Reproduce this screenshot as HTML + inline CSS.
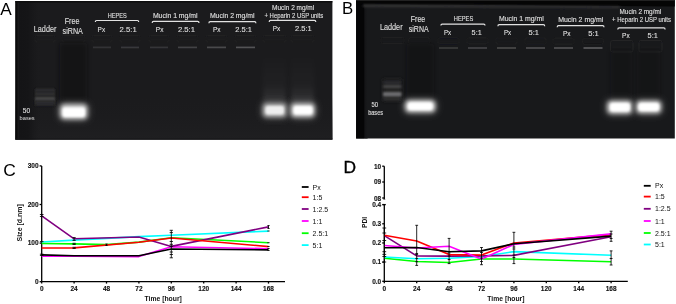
<!DOCTYPE html>
<html><head><meta charset="utf-8"><title>Figure</title>
<style>
html,body{margin:0;padding:0;background:#fff;width:676px;height:304px;overflow:hidden}
svg{display:block;font-family:"Liberation Sans",sans-serif}
</style></head><body>
<svg width="676" height="304" viewBox="0 0 676 304">
<defs>
<filter id="b1" x="-50%" y="-50%" width="200%" height="200%"><feGaussianBlur stdDeviation="1.2"/></filter>
<filter id="b2" x="-50%" y="-50%" width="200%" height="200%"><feGaussianBlur stdDeviation="2"/></filter>
<filter id="b3" x="-50%" y="-50%" width="200%" height="200%"><feGaussianBlur stdDeviation="3.5"/></filter>
<filter id="bt" filterUnits="userSpaceOnUse" x="0" y="0" width="676" height="304"><feGaussianBlur stdDeviation="0.25"/></filter>
<linearGradient id="gA" x1="0" y1="0" x2="0" y2="1"><stop offset="0" stop-color="#1b1b1d" stop-opacity="0"/><stop offset="1" stop-color="#1f1f21" stop-opacity="1"/></linearGradient>
<linearGradient id="gL" x1="0" y1="0" x2="1" y2="0"><stop offset="0" stop-color="#141416"/><stop offset="1" stop-color="#18191b"/></linearGradient>
<linearGradient id="lg" x1="0" y1="0" x2="0" y2="1"><stop offset="0" stop-color="#fff" stop-opacity="0"/><stop offset="0.6" stop-color="#fff" stop-opacity="0.025"/><stop offset="1" stop-color="#fff" stop-opacity="0.12"/></linearGradient>
<filter id="gs" filterUnits="userSpaceOnUse" x="0" y="0" width="676" height="304"><feOffset dx="0" dy="0"/></filter>
<linearGradient id="gAL" x1="0" y1="0" x2="1" y2="0"><stop offset="0" stop-color="#0a0a0a"/><stop offset="0.06" stop-color="#0b0b0b"/><stop offset="0.1" stop-color="#1a1a1b"/><stop offset="0.16" stop-color="#141416"/><stop offset="0.5" stop-color="#151517"/><stop offset="1" stop-color="#1b1b1d" stop-opacity="0"/></linearGradient>
</defs>
<g filter="url(#gs)">
<rect x="15.4" y="1.1" width="317" height="138.5" fill="#1b1b1d"/>
<rect x="15.4" y="95" width="317" height="44.6" fill="url(#gA)"/>
<rect x="15.4" y="1.1" width="26" height="138.5" fill="url(#gAL)"/>
<path d="M15.4 139 H332.4" stroke="#151517" stroke-width="0.9" fill="none"/>
<path d="M15.4 1.8 H332.4" stroke="#0c0c0d" stroke-width="1.4" fill="none"/>
<rect x="356.1" y="0" width="318.7" height="138.5" fill="#18191b"/>
<rect x="356.1" y="0" width="8.5" height="138.5" fill="#050506"/>
<rect x="364.6" y="0" width="3" height="138.5" fill="url(#gL)"/>
<polygon points="356.1,0 674.8,0 674.8,6.6 356.1,4.2" fill="#050505"/>
<polygon points="363,4.4 620,6.2 620,8 363,7" fill="#343436" filter="url(#b1)"/>
<rect x="356.1" y="0" width="318.7" height="0.8" fill="#2a2a2a"/>
<rect x="35" y="35.5" width="20" height="6.5" rx="2" fill="none" stroke="#202022" stroke-width="0.7" opacity="1" filter="url(#bt)"/><path d="M37 39.55 H53" stroke="#202022" stroke-width="0.6" opacity="0.7"/>
<rect x="62" y="35.5" width="23" height="6.5" rx="2" fill="none" stroke="#202022" stroke-width="0.7" opacity="1" filter="url(#bt)"/><path d="M64 39.55 H83" stroke="#202022" stroke-width="0.6" opacity="0.7"/>
<rect x="92" y="35.5" width="20" height="6.5" rx="2" fill="none" stroke="#202022" stroke-width="0.7" opacity="1" filter="url(#bt)"/><path d="M94 39.55 H110" stroke="#202022" stroke-width="0.6" opacity="0.7"/><path d="M93 47.4 H111" stroke="#333335" stroke-width="1.7" filter="url(#bt)"/>
<rect x="120" y="35.5" width="20" height="6.5" rx="2" fill="none" stroke="#202022" stroke-width="0.7" opacity="1" filter="url(#bt)"/><path d="M122 39.55 H138" stroke="#202022" stroke-width="0.6" opacity="0.7"/><path d="M121 47.4 H139" stroke="#39393b" stroke-width="1.7" filter="url(#bt)"/>
<rect x="149" y="35.5" width="20" height="6.5" rx="2" fill="none" stroke="#202022" stroke-width="0.7" opacity="1" filter="url(#bt)"/><path d="M151 39.55 H167" stroke="#202022" stroke-width="0.6" opacity="0.7"/><path d="M150 47.4 H168" stroke="#363638" stroke-width="1.7" filter="url(#bt)"/>
<rect x="177" y="35.5" width="21" height="6.5" rx="2" fill="none" stroke="#202022" stroke-width="0.7" opacity="1" filter="url(#bt)"/><path d="M179 39.55 H196" stroke="#202022" stroke-width="0.6" opacity="0.7"/><path d="M178 47.4 H197" stroke="#434345" stroke-width="1.7" filter="url(#bt)"/>
<rect x="206" y="35.5" width="21" height="6.5" rx="2" fill="none" stroke="#202022" stroke-width="0.7" opacity="1" filter="url(#bt)"/><path d="M208 39.55 H225" stroke="#202022" stroke-width="0.6" opacity="0.7"/><path d="M207 47.4 H226" stroke="#4a4a4c" stroke-width="1.7" filter="url(#bt)"/>
<rect x="235" y="35.5" width="21" height="6.5" rx="2" fill="none" stroke="#202022" stroke-width="0.7" opacity="1" filter="url(#bt)"/><path d="M237 39.55 H254" stroke="#202022" stroke-width="0.6" opacity="0.7"/><path d="M236 47.4 H255" stroke="#525254" stroke-width="1.7" filter="url(#bt)"/>
<rect x="263" y="35.5" width="23" height="6.5" rx="2" fill="none" stroke="#202022" stroke-width="0.7" opacity="1" filter="url(#bt)"/><path d="M265 39.55 H284" stroke="#202022" stroke-width="0.6" opacity="0.7"/>
<rect x="291" y="35.5" width="23" height="6.5" rx="2" fill="none" stroke="#202022" stroke-width="0.7" opacity="1" filter="url(#bt)"/><path d="M293 39.55 H312" stroke="#202022" stroke-width="0.6" opacity="0.7"/>
<rect x="381" y="37.5" width="23" height="6" rx="2" fill="none" stroke="#1f1f21" stroke-width="0.7" opacity="1" filter="url(#bt)"/><path d="M383 41.3 H402" stroke="#1f1f21" stroke-width="0.6" opacity="0.7"/>
<rect x="408.5" y="37.61" width="21.5" height="6" rx="2" fill="none" stroke="#1f1f21" stroke-width="0.7" opacity="1" filter="url(#bt)"/><path d="M410.5 41.41 H428" stroke="#1f1f21" stroke-width="0.6" opacity="0.7"/>
<rect x="438" y="37.73" width="21" height="6" rx="2" fill="none" stroke="#1f1f21" stroke-width="0.7" opacity="1" filter="url(#bt)"/><path d="M440 41.53 H457" stroke="#1f1f21" stroke-width="0.6" opacity="0.7"/><path d="M439 48 H458" stroke="#3a3a3c" stroke-width="1.7" filter="url(#bt)"/>
<rect x="467" y="37.84" width="21" height="6" rx="2" fill="none" stroke="#1f1f21" stroke-width="0.7" opacity="1" filter="url(#bt)"/><path d="M469 41.64 H486" stroke="#1f1f21" stroke-width="0.6" opacity="0.7"/><path d="M468 48 H487" stroke="#444446" stroke-width="1.7" filter="url(#bt)"/>
<rect x="496" y="37.96" width="21" height="6" rx="2" fill="none" stroke="#1f1f21" stroke-width="0.7" opacity="1" filter="url(#bt)"/><path d="M498 41.76 H515" stroke="#1f1f21" stroke-width="0.6" opacity="0.7"/><path d="M497 48 H516" stroke="#48484a" stroke-width="1.7" filter="url(#bt)"/>
<rect x="525" y="38.08" width="21" height="6" rx="2" fill="none" stroke="#1f1f21" stroke-width="0.7" opacity="1" filter="url(#bt)"/><path d="M527 41.88 H544" stroke="#1f1f21" stroke-width="0.6" opacity="0.7"/><path d="M526 48 H545" stroke="#4e4e50" stroke-width="1.7" filter="url(#bt)"/>
<rect x="553" y="38.19" width="21" height="6" rx="2" fill="none" stroke="#1f1f21" stroke-width="0.7" opacity="1" filter="url(#bt)"/><path d="M555 41.99 H572" stroke="#1f1f21" stroke-width="0.6" opacity="0.7"/><path d="M554 48 H573" stroke="#505052" stroke-width="1.7" filter="url(#bt)"/>
<rect x="582.5" y="38.31" width="21" height="6" rx="2" fill="none" stroke="#1f1f21" stroke-width="0.7" opacity="1" filter="url(#bt)"/><path d="M584.5 42.11 H601.5" stroke="#1f1f21" stroke-width="0.6" opacity="0.7"/><path d="M583.5 48 H602.5" stroke="#5a5a5c" stroke-width="1.7" filter="url(#bt)"/>
<rect x="610.5" y="40.5" width="22.5" height="11.5" rx="2" fill="none" stroke="#262628" stroke-width="0.7" opacity="1" filter="url(#bt)"/><path d="M612.5 47.05 H631" stroke="#262628" stroke-width="0.6" opacity="0.7"/>
<rect x="639" y="40.5" width="23" height="11.5" rx="2" fill="none" stroke="#262628" stroke-width="0.7" opacity="1" filter="url(#bt)"/><path d="M641 47.05 H660" stroke="#262628" stroke-width="0.6" opacity="0.7"/>
<rect x="59.5" y="43" width="27.5" height="61" rx="2" fill="#0d0d0f" opacity="0.45" filter="url(#b2)"/>
<rect x="59" y="103" width="29.5" height="17" rx="5" fill="#6a6a6a" opacity="1" filter="url(#b3)"/>
<rect x="60.5" y="104.5" width="26.5" height="14.5" rx="4" fill="#cfcfcf" opacity="1" filter="url(#b2)"/>
<rect x="62.5" y="107.5" width="22.5" height="9.5" rx="3" fill="#ffffff" opacity="1" filter="url(#b1)"/>
<rect x="263" y="55" width="23" height="50" rx="2" fill="url(#lg)" opacity="1" filter="url(#b2)"/>
<rect x="291" y="55" width="23" height="50" rx="2" fill="url(#lg)" opacity="1" filter="url(#b2)"/>
<rect x="261.5" y="102" width="26.5" height="16.5" rx="5" fill="#555555" opacity="1" filter="url(#b3)"/>
<rect x="263" y="103.5" width="23.5" height="13.5" rx="4" fill="#b5b5b5" opacity="1" filter="url(#b2)"/>
<rect x="265.5" y="106" width="18.5" height="8.5" rx="3" fill="#eeeeee" opacity="1" filter="url(#b1)"/>
<rect x="289.5" y="102" width="26.5" height="16.5" rx="5" fill="#606060" opacity="1" filter="url(#b3)"/>
<rect x="291" y="103.5" width="23.5" height="13.5" rx="4" fill="#cdcdcd" opacity="1" filter="url(#b2)"/>
<rect x="293.5" y="106" width="19" height="8.5" rx="3" fill="#ffffff" opacity="1" filter="url(#b1)"/>
<rect x="35" y="88.5" width="20" height="17.5" rx="1" fill="#202022" opacity="1" filter="url(#b1)"/>
<rect x="35" y="89.2" width="20" height="1.8" rx="1" fill="#323234" opacity="1" filter="url(#b1)"/>
<rect x="35" y="92.8" width="20" height="2" rx="1" fill="#353537" opacity="1" filter="url(#b1)"/>
<rect x="35" y="97.3" width="20" height="3.3" rx="1" fill="#4c4c4e" opacity="1" filter="url(#b1)"/>
<rect x="35" y="100.5" width="20" height="4.5" rx="1" fill="#2c2c2e" opacity="1" filter="url(#b1)"/>
<rect x="406.5" y="44" width="27.5" height="58" rx="2" fill="#0d0d0f" opacity="0.4" filter="url(#b2)"/>
<rect x="610.5" y="50" width="21.5" height="52" rx="2" fill="#0d0d0f" opacity="0.3" filter="url(#b2)"/>
<rect x="637" y="50" width="23" height="52" rx="2" fill="#0d0d0f" opacity="0.3" filter="url(#b2)"/>
<rect x="404" y="99" width="32.5" height="14.5" rx="5" fill="#6a6a6a" opacity="1" filter="url(#b3)"/>
<rect x="405.5" y="100.5" width="29.5" height="11.5" rx="4" fill="#dadada" opacity="1" filter="url(#b2)"/>
<rect x="408" y="102.5" width="24.5" height="7.5" rx="3" fill="#ffffff" opacity="1" filter="url(#b1)"/>
<rect x="606" y="99.5" width="27.5" height="15.5" rx="5" fill="#606060" opacity="1" filter="url(#b3)"/>
<rect x="607.5" y="101" width="24.5" height="12.5" rx="4" fill="#d2d2d2" opacity="1" filter="url(#b2)"/>
<rect x="610" y="103" width="20" height="8.5" rx="3" fill="#ffffff" opacity="1" filter="url(#b1)"/>
<rect x="635" y="99.5" width="27.5" height="15" rx="5" fill="#606060" opacity="1" filter="url(#b3)"/>
<rect x="636.5" y="101" width="24.5" height="12" rx="4" fill="#d2d2d2" opacity="1" filter="url(#b2)"/>
<rect x="638.5" y="103" width="20.5" height="8" rx="3" fill="#ffffff" opacity="1" filter="url(#b1)"/>
<rect x="383" y="79" width="18.5" height="22" rx="1" fill="#212123" opacity="1" filter="url(#b2)"/>
<rect x="383" y="81.6" width="18.5" height="1.8" rx="1" fill="#2e2e30" opacity="1" filter="url(#b1)"/>
<rect x="383" y="85.2" width="18.5" height="2.6" rx="1" fill="#4a4a4c" opacity="1" filter="url(#b1)"/>
<rect x="383" y="92" width="18.5" height="4.4" rx="1" fill="#6c6c6e" opacity="1" filter="url(#b1)"/>
<rect x="383" y="98" width="18.5" height="2" rx="1" fill="#323234" opacity="1" filter="url(#b1)"/>
<text x="33.8" y="31.6" font-size="8.4" textLength="22.6" lengthAdjust="spacingAndGlyphs" fill="#dedede" stroke="#dedede" stroke-width="0.14" filter="url(#bt)">Ladder</text>
<text x="64.7" y="24.3" font-size="8.2" textLength="14.8" lengthAdjust="spacingAndGlyphs" fill="#dedede" stroke="#dedede" stroke-width="0.14" filter="url(#bt)">Free</text>
<text x="62.6" y="34.2" font-size="8.2" textLength="20.2" lengthAdjust="spacingAndGlyphs" fill="#dedede" stroke="#dedede" stroke-width="0.14" filter="url(#bt)">siRNA</text>
<text x="107.8" y="17.8" font-size="6.4" textLength="19" lengthAdjust="spacingAndGlyphs" fill="#dedede" stroke="#dedede" stroke-width="0.14" filter="url(#bt)">HEPES</text>
<text x="97.6" y="32" font-size="7.4" textLength="7.5" lengthAdjust="spacingAndGlyphs" fill="#dedede" stroke="#dedede" stroke-width="0.14" filter="url(#bt)">Px</text>
<text x="119.6" y="32" font-size="7.4" textLength="17.1" lengthAdjust="spacingAndGlyphs" fill="#dedede" stroke="#dedede" stroke-width="0.14" filter="url(#bt)">2.5:1</text>
<text x="152.9" y="17.9" font-size="6.8" textLength="44.7" lengthAdjust="spacingAndGlyphs" fill="#dedede" stroke="#dedede" stroke-width="0.14" filter="url(#bt)">Mucin 1 mg/ml</text>
<text x="155.8" y="32" font-size="7.4" textLength="7.6" lengthAdjust="spacingAndGlyphs" fill="#dedede" stroke="#dedede" stroke-width="0.14" filter="url(#bt)">Px</text>
<text x="177.9" y="32" font-size="7.4" textLength="17.1" lengthAdjust="spacingAndGlyphs" fill="#dedede" stroke="#dedede" stroke-width="0.14" filter="url(#bt)">2.5:1</text>
<text x="209.9" y="18.2" font-size="6.8" textLength="44.7" lengthAdjust="spacingAndGlyphs" fill="#dedede" stroke="#dedede" stroke-width="0.14" filter="url(#bt)">Mucin 2 mg/ml</text>
<text x="212.9" y="32" font-size="7.4" textLength="7.5" lengthAdjust="spacingAndGlyphs" fill="#dedede" stroke="#dedede" stroke-width="0.14" filter="url(#bt)">Px</text>
<text x="235.3" y="32" font-size="7.4" textLength="16.7" lengthAdjust="spacingAndGlyphs" fill="#dedede" stroke="#dedede" stroke-width="0.14" filter="url(#bt)">2.5:1</text>
<text x="272.1" y="10.3" font-size="6.6" textLength="42.1" lengthAdjust="spacingAndGlyphs" fill="#dedede" stroke="#dedede" stroke-width="0.14" filter="url(#bt)">Mucin 2 mg/ml</text>
<text x="264.5" y="18.2" font-size="6.6" textLength="58.7" lengthAdjust="spacingAndGlyphs" fill="#dedede" stroke="#dedede" stroke-width="0.14" filter="url(#bt)">+ Heparin 2 USP units</text>
<text x="272.8" y="31.3" font-size="7.4" textLength="7.5" lengthAdjust="spacingAndGlyphs" fill="#dedede" stroke="#dedede" stroke-width="0.14" filter="url(#bt)">Px</text>
<text x="295.1" y="31.3" font-size="7.4" textLength="16.7" lengthAdjust="spacingAndGlyphs" fill="#dedede" stroke="#dedede" stroke-width="0.14" filter="url(#bt)">2.5:1</text>
<text x="22.8" y="112.7" font-size="6.5" textLength="7.2" lengthAdjust="spacingAndGlyphs" fill="#dedede" stroke="#dedede" stroke-width="0.14" filter="url(#bt)">50</text>
<text x="19.6" y="120.1" font-size="6.2" textLength="15.1" lengthAdjust="spacingAndGlyphs" fill="#dedede" stroke="#dedede" stroke-width="0" filter="url(#bt)">bases</text>
<text x="379.9" y="29.6" font-size="8.4" textLength="22.7" lengthAdjust="spacingAndGlyphs" fill="#dedede" stroke="#dedede" stroke-width="0.14" filter="url(#bt)">Ladder</text>
<text x="410.8" y="22.4" font-size="8.2" textLength="14.5" lengthAdjust="spacingAndGlyphs" fill="#dedede" stroke="#dedede" stroke-width="0.14" filter="url(#bt)">Free</text>
<text x="408.8" y="32.2" font-size="8.2" textLength="19.8" lengthAdjust="spacingAndGlyphs" fill="#dedede" stroke="#dedede" stroke-width="0.14" filter="url(#bt)">siRNA</text>
<text x="453.8" y="21" font-size="6.4" textLength="19.4" lengthAdjust="spacingAndGlyphs" fill="#dedede" stroke="#dedede" stroke-width="0.14" filter="url(#bt)">HEPES</text>
<text x="443.9" y="35.3" font-size="7.4" textLength="7.1" lengthAdjust="spacingAndGlyphs" fill="#dedede" stroke="#dedede" stroke-width="0.14" filter="url(#bt)">Px</text>
<text x="471.6" y="35.3" font-size="7.4" textLength="10.1" lengthAdjust="spacingAndGlyphs" fill="#dedede" stroke="#dedede" stroke-width="0.14" filter="url(#bt)">5:1</text>
<text x="498.9" y="21" font-size="6.8" textLength="44.8" lengthAdjust="spacingAndGlyphs" fill="#dedede" stroke="#dedede" stroke-width="0.14" filter="url(#bt)">Mucin 1 mg/ml</text>
<text x="503.9" y="35.3" font-size="7.4" textLength="7.1" lengthAdjust="spacingAndGlyphs" fill="#dedede" stroke="#dedede" stroke-width="0.14" filter="url(#bt)">Px</text>
<text x="528.6" y="35.3" font-size="7.4" textLength="10.4" lengthAdjust="spacingAndGlyphs" fill="#dedede" stroke="#dedede" stroke-width="0.14" filter="url(#bt)">5:1</text>
<text x="558.2" y="21.7" font-size="6.8" textLength="45.1" lengthAdjust="spacingAndGlyphs" fill="#dedede" stroke="#dedede" stroke-width="0.14" filter="url(#bt)">Mucin 2 mg/ml</text>
<text x="562.9" y="35.8" font-size="7.4" textLength="7.5" lengthAdjust="spacingAndGlyphs" fill="#dedede" stroke="#dedede" stroke-width="0.14" filter="url(#bt)">Px</text>
<text x="588.2" y="35.8" font-size="7.4" textLength="10.5" lengthAdjust="spacingAndGlyphs" fill="#dedede" stroke="#dedede" stroke-width="0.14" filter="url(#bt)">5:1</text>
<text x="619.5" y="13.8" font-size="6.6" textLength="41.7" lengthAdjust="spacingAndGlyphs" fill="#dedede" stroke="#dedede" stroke-width="0.14" filter="url(#bt)">Mucin 2 mg/ml</text>
<text x="612.1" y="22.1" font-size="6.6" textLength="58.9" lengthAdjust="spacingAndGlyphs" fill="#dedede" stroke="#dedede" stroke-width="0.14" filter="url(#bt)">+ Heparin 2 USP units</text>
<text x="622.1" y="37.5" font-size="7.4" textLength="7.5" lengthAdjust="spacingAndGlyphs" fill="#dedede" stroke="#dedede" stroke-width="0.14" filter="url(#bt)">Px</text>
<text x="647.6" y="37.5" font-size="7.4" textLength="10.3" lengthAdjust="spacingAndGlyphs" fill="#dedede" stroke="#dedede" stroke-width="0.14" filter="url(#bt)">5:1</text>
<text x="371.4" y="106.9" font-size="6.5" textLength="6.6" lengthAdjust="spacingAndGlyphs" fill="#dedede" stroke="#dedede" stroke-width="0.14" filter="url(#bt)">50</text>
<text x="368.2" y="114.7" font-size="6.3" textLength="14.8" lengthAdjust="spacingAndGlyphs" fill="#dedede" stroke="#dedede" stroke-width="0.14" filter="url(#bt)">bases</text>
<path d="M95.3 22 Q95.3 20.5 96.6 20.5 L137.4 20.5 Q138.7 20.5 138.7 22" stroke="#e2e2e2" stroke-width="1.2" fill="none" filter="url(#bt)"/>
<path d="M152.2 22.9 Q152.2 21.4 153.5 21.4 L197.7 21.4 Q199 21.4 199 22.9" stroke="#e2e2e2" stroke-width="1.2" fill="none" filter="url(#bt)"/>
<path d="M208.9 23.2 Q208.9 21.7 210.2 21.7 L254.6 21.7 Q255.9 21.7 255.9 23.2" stroke="#e2e2e2" stroke-width="1.2" fill="none" filter="url(#bt)"/>
<path d="M269.2 21.9 Q269.2 20.4 270.5 20.4 L314.5 20.4 Q315.8 20.4 315.8 21.9" stroke="#e2e2e2" stroke-width="1.2" fill="none" filter="url(#bt)"/>
<path d="M440.9 25.6 Q440.9 24.1 442.2 24.1 L483.7 24.1 Q485 24.1 485 25.6" stroke="#e2e2e2" stroke-width="1.2" fill="none" filter="url(#bt)"/>
<path d="M497.9 26.2 Q497.9 24.7 499.2 24.7 L543.4 24.7 Q544.7 24.7 544.7 26.2" stroke="#e2e2e2" stroke-width="1.2" fill="none" filter="url(#bt)"/>
<path d="M557.2 27.2 Q557.2 25.7 558.5 25.7 L602.7 25.7 Q604 25.7 604 27.2" stroke="#e2e2e2" stroke-width="1.2" fill="none" filter="url(#bt)"/>
<path d="M617.8 29.4 Q617.8 27.9 619.1 27.9 L663.8 27.9 Q665.1 27.9 665.1 29.4" stroke="#e2e2e2" stroke-width="1.2" fill="none" filter="url(#bt)"/>
<text x="0.3" y="15.3" font-size="17.2" fill="#000">A</text>
<text x="342" y="14.3" font-size="16.8" fill="#000">B</text>
<g fill="none" stroke="#000" stroke-width="1.3">
<path d="M41.7 165.9 V281.7 H285"/>
<path d="M39.6 281.7 H41.7"/>
<path d="M39.6 243.1 H41.7"/>
<path d="M39.6 204.5 H41.7"/>
<path d="M39.6 165.9 H41.7"/>
<path d="M41.7 281.7 V283.6"/>
<path d="M74.1 281.7 V283.6"/>
<path d="M106.5 281.7 V283.6"/>
<path d="M138.9 281.7 V283.6"/>
<path d="M171.3 281.7 V283.6"/>
<path d="M203.7 281.7 V283.6"/>
<path d="M236.1 281.7 V283.6"/>
<path d="M268.5 281.7 V283.6"/>
</g>
<g font-size="6.5" font-weight="bold" fill="#111" stroke="#111" stroke-width="0.12">
<text x="38.6" y="284" text-anchor="end">0</text>
<text x="38.6" y="245.4" text-anchor="end">100</text>
<text x="38.6" y="206.8" text-anchor="end">200</text>
<text x="38.6" y="168.2" text-anchor="end">300</text>
<text x="41.7" y="290.8" text-anchor="middle">0</text>
<text x="74.1" y="290.8" text-anchor="middle">24</text>
<text x="106.5" y="290.8" text-anchor="middle">48</text>
<text x="138.9" y="290.8" text-anchor="middle">72</text>
<text x="171.3" y="290.8" text-anchor="middle">96</text>
<text x="203.7" y="290.8" text-anchor="middle">120</text>
<text x="236.1" y="290.8" text-anchor="middle">144</text>
<text x="268.5" y="290.8" text-anchor="middle">168</text>
</g>
<text x="144.6" y="301.4" font-size="7.4" font-weight="bold" textLength="37.2" lengthAdjust="spacingAndGlyphs" fill="#111">Time [hour]</text>
<text transform="translate(21.9 241.5) rotate(-90)" font-size="7.6" font-weight="bold" textLength="37.4" lengthAdjust="spacingAndGlyphs" fill="#111">Size [d.nm]</text>
<path d="M41.7 242 L74.1 240.1 L138.9 236.6 L171.3 235.2 L268.5 231.1" fill="none" stroke="#00ffff" stroke-width="1.6" stroke-linejoin="round"/>
<path d="M41.7 243.5 L74.1 243.9 L106.5 244.6 L138.9 242.1 L171.3 237.8 L268.5 242.7" fill="none" stroke="#00ff00" stroke-width="1.6" stroke-linejoin="round"/>
<path d="M41.7 256.3 L74.1 256.2 L138.9 256.6 L171.3 246.7 L268.5 248.7" fill="none" stroke="#ff00ff" stroke-width="1.6" stroke-linejoin="round"/>
<path d="M41.7 215.8 L74.1 238.8 L138.9 237 L171.3 246.4 L268.5 226.9" fill="none" stroke="#800080" stroke-width="1.6" stroke-linejoin="round"/>
<path d="M41.7 248 L74.1 247.9 L138.9 242.3 L171.3 238 L268.5 246.6" fill="none" stroke="#ff0000" stroke-width="1.6" stroke-linejoin="round"/>
<path d="M41.7 254.9 L74.1 255.7 L138.9 255.7 L171.3 249 L268.5 249.9" fill="none" stroke="#000000" stroke-width="1.6" stroke-linejoin="round"/>
<path d="M171.3 230.3 V257.8 M169.7 230.3 H172.9 M169.7 257.8 H172.9 M169.7 232.6 H172.9 M169.7 241.5 H172.9 M169.7 244.3 H172.9 M169.7 246.3 H172.9 M169.7 252 H172.9 M169.7 254.5 H172.9" stroke="#000" stroke-width="0.85" fill="none"/>
<path d="M74.1 237.6 V240.4 M72.5 237.6 H75.7 M72.5 240.4 H75.7 M72.5 243.3 H75.7 M72.5 244.5 H75.7 M72.5 247.3 H75.7 M72.5 248.5 H75.7" stroke="#000" stroke-width="0.85" fill="none"/>
<path d="M41.7 214.5 V216.5 M39.9 214.5 H43.5 M39.9 216.5 H43.5 M39.9 241.6 H43.5 M39.9 254.2 H43.5 M39.9 255.4 H43.5" stroke="#000" stroke-width="0.85" fill="none"/>
<path d="M106.5 244 V245.5 M105.4 244 H107.6 M105.4 245.5 H107.6" stroke="#000" stroke-width="0.85" fill="none"/>
<path d="M268.5 225.5 V228.5 M267.4 225.5 H269.6 M267.4 228.5 H269.6 M267.4 231 H269.6 M267.4 242.7 H269.6 M267.4 246.5 H269.6 M267.4 248.5 H269.6 M267.4 250.5 H269.6" stroke="#000" stroke-width="0.85" fill="none"/>
<path d="M301.8 187 H308.6" stroke="#000000" stroke-width="1.8"/>
<text x="312.6" y="189.6" font-size="7" fill="#111">Px</text>
<path d="M301.8 197.2 H308.6" stroke="#ff0000" stroke-width="1.8"/>
<text x="312.6" y="199.8" font-size="7" fill="#111">1:5</text>
<path d="M301.8 209 H308.6" stroke="#800080" stroke-width="1.8"/>
<text x="312.6" y="211.6" font-size="7" fill="#111">1:2.5</text>
<path d="M301.8 221 H308.6" stroke="#ff00ff" stroke-width="1.8"/>
<text x="312.6" y="223.6" font-size="7" fill="#111">1:1</text>
<path d="M301.8 233.2 H308.6" stroke="#00ff00" stroke-width="1.8"/>
<text x="312.6" y="235.8" font-size="7" fill="#111">2.5:1</text>
<path d="M301.8 245.1 H308.6" stroke="#00ffff" stroke-width="1.8"/>
<text x="312.6" y="247.7" font-size="7" fill="#111">5:1</text>
<text x="3.2" y="175.6" font-size="17.4" fill="#000">C</text>
<g fill="none" stroke="#000" stroke-width="1.3">
<path d="M384.3 204.6 V281.3 H627.8"/>
<path d="M384.3 166.2 V198.5"/>
<path d="M382.8 204.6 H385.8"/>
<path d="M382.2 281.3 H384.3"/>
<path d="M382.2 262.12 H384.3"/>
<path d="M382.2 242.95 H384.3"/>
<path d="M382.2 223.78 H384.3"/>
<path d="M382.2 204.6 H384.3"/>
<path d="M382.2 166.2 H384.3"/>
<path d="M382.2 182 H384.3"/>
<path d="M382.2 198 H384.3"/>
<path d="M384.3 281.3 V283.2"/>
<path d="M416.7 281.3 V283.2"/>
<path d="M449.1 281.3 V283.2"/>
<path d="M481.5 281.3 V283.2"/>
<path d="M513.9 281.3 V283.2"/>
<path d="M546.3 281.3 V283.2"/>
<path d="M578.7 281.3 V283.2"/>
<path d="M611.1 281.3 V283.2"/>
</g>
<path d="M383.2 199.5 L384.3 197.3 L385.4 199.5 Z" fill="#000"/>
<g font-size="6.5" font-weight="bold" fill="#111" stroke="#111" stroke-width="0.12">
<text x="381.2" y="283.6" text-anchor="end">0.0</text>
<text x="381.2" y="264.43" text-anchor="end">0.1</text>
<text x="381.2" y="245.25" text-anchor="end">0.2</text>
<text x="381.2" y="226.08" text-anchor="end">0.3</text>
<text x="381.2" y="206.9" text-anchor="end">0.4</text>
<text x="381.2" y="168.5" text-anchor="end">10</text>
<text x="381.2" y="184.3" text-anchor="end">09</text>
<text x="381.2" y="200.6" text-anchor="end">08</text>
<text x="384.3" y="290.6" text-anchor="middle">0</text>
<text x="416.7" y="290.6" text-anchor="middle">24</text>
<text x="449.1" y="290.6" text-anchor="middle">48</text>
<text x="481.5" y="290.6" text-anchor="middle">72</text>
<text x="513.9" y="290.6" text-anchor="middle">96</text>
<text x="546.3" y="290.6" text-anchor="middle">120</text>
<text x="578.7" y="290.6" text-anchor="middle">144</text>
<text x="611.1" y="290.6" text-anchor="middle">168</text>
</g>
<text x="487.3" y="301.4" font-size="7.4" font-weight="bold" textLength="37.2" lengthAdjust="spacingAndGlyphs" fill="#111">Time [hour]</text>
<text transform="translate(366.7 228.1) rotate(-90)" font-size="7.6" font-weight="bold" textLength="11.2" lengthAdjust="spacingAndGlyphs" fill="#111">PDI</text>
<path d="M384.3 258.2 L416.7 261.5 L449.1 262.5 L481.5 259 L513.9 259 L611.1 261.7" fill="none" stroke="#00ff00" stroke-width="1.6" stroke-linejoin="round"/>
<path d="M384.3 257 L416.7 258.7 L449.1 258.2 L481.5 256.5 L513.9 251.6 L611.1 255.3" fill="none" stroke="#00ffff" stroke-width="1.6" stroke-linejoin="round"/>
<path d="M384.3 235.6 L416.7 255.9 L449.1 256.1 L481.5 255.9 L513.9 255.4 L611.1 236.8" fill="none" stroke="#800080" stroke-width="1.6" stroke-linejoin="round"/>
<path d="M384.3 235.3 L416.7 241 L449.1 254.6 L481.5 255 L513.9 243 L611.1 234.6" fill="none" stroke="#ff0000" stroke-width="1.6" stroke-linejoin="round"/>
<path d="M384.3 245.5 L416.7 248 L449.1 246.3 L481.5 259.1 L513.9 244.4 L611.1 233.9" fill="none" stroke="#ff00ff" stroke-width="1.6" stroke-linejoin="round"/>
<path d="M384.3 247.7 L416.7 247.5 L449.1 251.7 L481.5 250.9 L513.9 243.8 L611.1 236.1" fill="none" stroke="#000000" stroke-width="1.6" stroke-linejoin="round"/>
<path d="M416.7 225.3 V265.4 M415.3 225.3 H418.1 M415.3 265.4 H418.1 M415.3 253.5 H418.1 M415.3 254.6 H418.1 M415.3 258.4 H418.1 M415.3 261.7 H418.1" stroke="#000" stroke-width="0.85" fill="none"/>
<path d="M449.1 238.4 V263.6 M447.7 238.4 H450.5 M447.7 263.6 H450.5 M447.7 253 H450.5 M447.7 256 H450.5 M447.7 259.5 H450.5" stroke="#000" stroke-width="0.85" fill="none"/>
<path d="M481.5 247.5 V264.7 M480.1 247.5 H482.9 M480.1 264.7 H482.9 M480.1 252.5 H482.9 M480.1 258 H482.9 M480.1 261.5 H482.9" stroke="#000" stroke-width="0.85" fill="none"/>
<path d="M513.9 232.3 V263.6 M512.5 232.3 H515.3 M512.5 263.6 H515.3 M512.5 247 H515.3 M512.5 249 H515.3 M512.5 255 H515.3 M512.5 257.5 H515.3" stroke="#000" stroke-width="0.85" fill="none"/>
<path d="M611.1 231.2 V241.3 M609.7 231.2 H612.5 M609.7 241.3 H612.5 M609.7 234 H612.5 M609.7 238.5 H612.5" stroke="#000" stroke-width="0.85" fill="none"/>
<path d="M611.1 250.9 V265 M609.7 250.9 H612.5 M609.7 265 H612.5 M609.7 258.5 H612.5" stroke="#000" stroke-width="0.85" fill="none"/>
<path d="M384.3 228 V262 M382.4 228 H386.2 M382.4 262 H386.2 M382.4 233 H386.2 M382.4 240.5 H386.2 M382.4 251.7 H386.2 M382.4 254.4 H386.2 M382.4 256.5 H386.2" stroke="#000" stroke-width="0.85" fill="none"/>
<path d="M643.8 185.8 H650.7" stroke="#000000" stroke-width="1.8"/>
<text x="655" y="188.4" font-size="7" fill="#111">Px</text>
<path d="M643.8 196.6 H650.7" stroke="#ff0000" stroke-width="1.8"/>
<text x="655" y="199.2" font-size="7" fill="#111">1:5</text>
<path d="M643.8 208.8 H650.7" stroke="#800080" stroke-width="1.8"/>
<text x="655" y="211.4" font-size="7" fill="#111">1:2.5</text>
<path d="M643.8 221 H650.7" stroke="#ff00ff" stroke-width="1.8"/>
<text x="655" y="223.6" font-size="7" fill="#111">1:1</text>
<path d="M643.8 233 H650.7" stroke="#00ff00" stroke-width="1.8"/>
<text x="655" y="235.6" font-size="7" fill="#111">2.5:1</text>
<path d="M643.8 244.5 H650.7" stroke="#00ffff" stroke-width="1.8"/>
<text x="655" y="247.1" font-size="7" fill="#111">5:1</text>
<text x="343.4" y="173.4" font-size="17.4" stroke="#000" stroke-width="0.35" fill="#000">D</text>
</g>
</svg>
</body></html>
